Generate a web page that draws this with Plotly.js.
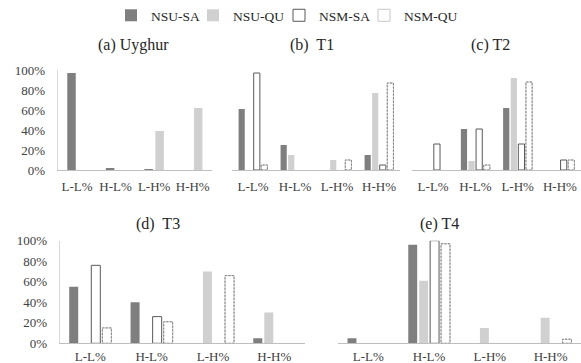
<!DOCTYPE html>
<html><head><meta charset="utf-8">
<script src="https://cdn.plot.ly/plotly-3.0.1.min.js"></script>
<style>html,body{margin:0;padding:0;background:#fff}#chart{width:581px;height:363px}</style>
</head><body><div id="chart"></div>
<script>
// ---------- data ----------
const categories = ['L-L%', 'H-L%', 'L-H%', 'H-H%'];
const seriesNames = ['NSU-SA', 'NSU-QU', 'NSM-SA', 'NSM-QU'];
const panelTitles = ['(a) Uyghur', '(b)\u00a0 T1', '(c) T2', '(d)\u00a0 T3', '(e) T4'];
const yTickVals = [0, 20, 40, 60, 80, 100];
const yTickText = ['0%', '20%', '40%', '60%', '80%', '100%'];

// (a) Uyghur (only the NSU series)
const uyghurNSU_SA = [97, 2, 1, null];
const uyghurNSU_QU = [null, null, 39, 62];
// (b) T1
const t1NSU_SA = [61, 25, null, 15];
const t1NSU_QU = [null, 15, 10, 77];
const t1NSM_SA = [97, null, null, 5];
const t1NSM_QU = [5, null, 10, 87];
// (c) T2
const t2NSU_SA = [null, 41, 62, null];
const t2NSU_QU = [null, 9, 92, null];
const t2NSM_SA = [26, 41, 26, 10];
const t2NSM_QU = [null, 5, 88, 10];
// (d) T3
const t3NSU_SA = [55, 40, null, 5];
const t3NSU_QU = [null, null, 70, 30];
const t3NSM_SA = [76, 26, null, null];
const t3NSM_QU = [15, 21, 66, null];
// (e) T4
const t4NSU_SA = [5, 96, null, null];
const t4NSU_QU = [null, 61, 15, 25];
const t4NSM_SA = [null, 100, null, null];
const t4NSM_QU = [null, 97, null, 4];

// ---------- styles ----------
const FONT = 'Liberation Serif';
const W = 581, H = 363;
const seriesStyle = {
  'NSU-SA': {fill: '#7f7f7f', line: '#7f7f7f', lw: 0, legend: 'legend', lx: 111},
  'NSU-QU': {fill: '#d0d0d0', line: '#d0d0d0', lw: 0, legend: 'legend2', lx: 193},
  'NSM-SA': {fill: '#ffffff', line: '#595959', lw: 1, legend: 'legend3', lx: 279},
  'NSM-QU': {fill: '#ffffff', line: '#c8c8c8', lw: 1, legend: 'legend4', lx: 364}
};
const row1 = [H - 170, H - 70], row2 = [H - 343.3, H - 240.7];
const panels = [
  {ax: '', xd: [57.7, 212], yd: row1, yLabels: true, slot: 0.284, bw: 0.22, xso: 4,
   series: [['NSU-SA', uyghurNSU_SA], ['NSU-QU', uyghurNSU_QU]], title: [133, 45]},
  {ax: '2', xd: [232, 400], yd: row1, yLabels: false, slot: 0.18, bw: 0.147, xso: 4,
   series: [['NSU-SA', t1NSU_SA], ['NSU-QU', t1NSU_QU], ['NSM-SA', t1NSM_SA], ['NSM-QU', t1NSM_QU]], title: [312, 45]},
  {ax: '3', xd: [412, 581], yd: row1, yLabels: false, slot: 0.18, bw: 0.147, xso: 4,
   series: [['NSU-SA', t2NSU_SA], ['NSU-QU', t2NSU_QU], ['NSM-SA', t2NSM_SA], ['NSM-QU', t2NSM_QU]], title: [490, 45]},
  {ax: '4', xd: [59.6, 305], yd: row2, yLabels: true, slot: 0.18, bw: 0.147, xso: 1,
   series: [['NSU-SA', t3NSU_SA], ['NSU-QU', t3NSU_QU], ['NSM-SA', t3NSM_SA], ['NSM-QU', t3NSM_QU]], title: [158, 224]},
  {ax: '5', xd: [338, 581], yd: row2, yLabels: false, slot: 0.18, bw: 0.147, xso: 1,
   series: [['NSU-SA', t4NSU_SA], ['NSU-QU', t4NSU_QU], ['NSM-SA', t4NSM_SA], ['NSM-QU', t4NSM_QU]], title: [439, 224]}
];

const traces = [], shapes = [], annotations = [];
const layout = {
  width: W, height: H, margin: {l: 0, r: 0, t: 0, b: 0},
  paper_bgcolor: '#ffffff', plot_bgcolor: 'rgba(0,0,0,0)',
  barmode: 'overlay', font: {family: FONT, color: '#404040', size: 13},
  showlegend: true, hovermode: false
};
seriesNames.forEach(name => {
  const st = seriesStyle[name];
  layout[st.legend] = {orientation: 'h', x: st.lx / W, xanchor: 'left', y: 1, yanchor: 'top',
    font: {family: FONT, size: 13.5, color: '#262626'}, itemclick: false, itemdoubleclick: false,
    bgcolor: 'rgba(0,0,0,0)'};
});

panels.forEach((p, pi) => {
  const n = p.series.length;
  p.series.forEach(([name, vals], k) => {
    const st = seriesStyle[name];
    const off = (k - (n - 1) / 2) * p.slot - p.bw / 2;
    traces.push({
      type: 'bar', name: name, x: categories, y: vals,
      xaxis: 'x' + p.ax, yaxis: 'y' + p.ax,
      offset: off, width: p.bw,
      marker: {color: st.fill, line: {color: st.line, width: st.lw}},
      legend: st.legend, legendgroup: name, showlegend: pi === 1
    });
    if (name === 'NSM-QU') {
      vals.forEach((v, i) => {
        if (v === null) return;
        shapes.push({type: 'rect', xref: 'x' + p.ax, yref: 'y' + p.ax,
          x0: i + off, x1: i + off + p.bw, y0: 0, y1: v,
          line: {color: '#7f7f7f', width: 1, dash: '2px,1.5px'},
          fillcolor: 'rgba(0,0,0,0)', layer: 'above'});
      });
    }
  });
  layout['xaxis' + p.ax] = {
    domain: [p.xd[0] / W, p.xd[1] / W], anchor: 'y' + p.ax,
    type: 'category', categoryorder: 'array', categoryarray: categories,
    range: [-0.5, 3.5], fixedrange: true,
    showline: true, linecolor: '#bfbfbf', linewidth: 1, showgrid: false, zeroline: false,
    ticks: '', ticklabelstandoff: p.xso,
    tickfont: {family: FONT, size: 13, color: '#404040'}
  };
  layout['yaxis' + p.ax] = {
    domain: [p.yd[0] / H, p.yd[1] / H], anchor: 'x' + p.ax,
    range: [0, 100], fixedrange: true,
    showgrid: false, zeroline: false,
    showline: p.yLabels, linecolor: '#d9d9d9', linewidth: 1,
    showticklabels: p.yLabels, tickvals: yTickVals, ticktext: yTickText,
    ticks: '', ticklabelstandoff: 9,
    tickfont: {family: FONT, size: 13, color: '#404040'}
  };
  annotations.push({text: panelTitles[pi], xref: 'paper', yref: 'paper',
    x: p.title[0] / W, y: 1 - p.title[1] / H, xanchor: 'center', yanchor: 'middle',
    showarrow: false, font: {family: FONT, size: 16, color: '#262626'}});
});
layout.shapes = shapes;
layout.annotations = annotations;

Plotly.newPlot('chart', traces, layout, {staticPlot: true, displayModeBar: false});
</script>
</body></html>
